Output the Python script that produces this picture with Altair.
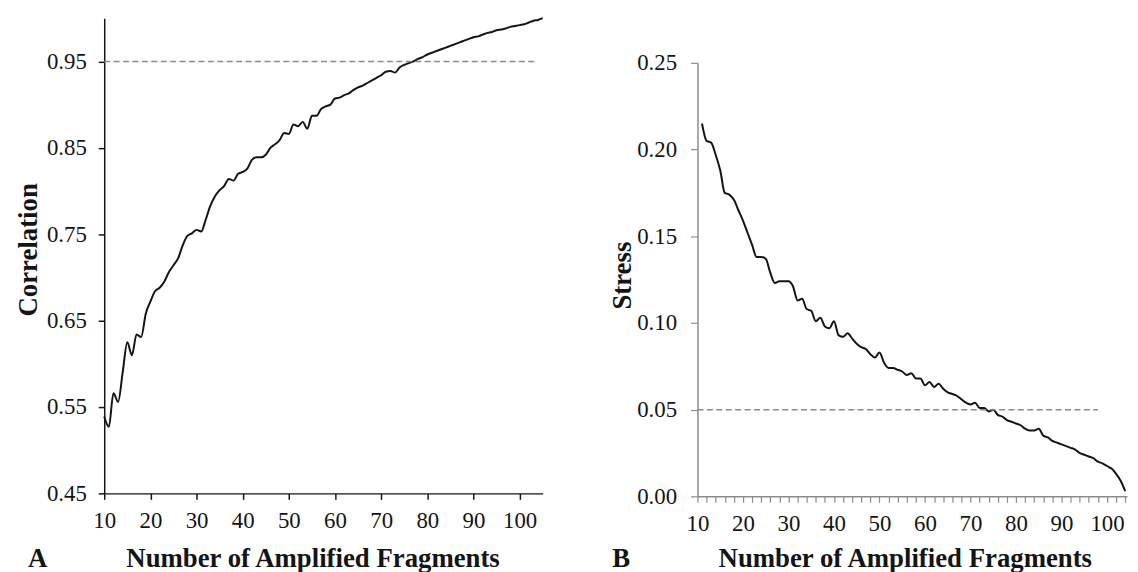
import altair as alt
import pandas as pd

# ---------------- data ----------------
corr_n = list(range(10, 106))
corr_val = [0.539, 0.527, 0.566, 0.556, 0.590, 0.625, 0.610, 0.634, 0.631, 0.658,
            0.672, 0.684, 0.688, 0.695, 0.706, 0.714, 0.722, 0.737, 0.748, 0.751,
            0.755, 0.753, 0.767, 0.783, 0.794, 0.801, 0.806, 0.814, 0.812, 0.820,
            0.822, 0.826, 0.836, 0.839, 0.839, 0.842, 0.850, 0.854, 0.859, 0.867,
            0.866, 0.877, 0.875, 0.880, 0.872, 0.887, 0.887, 0.895, 0.898, 0.900,
            0.907, 0.908, 0.911, 0.913, 0.917, 0.920, 0.922, 0.925, 0.928, 0.931,
            0.934, 0.938, 0.939, 0.937, 0.943, 0.946, 0.948, 0.950, 0.953, 0.955,
            0.958, 0.960, 0.962, 0.964, 0.966, 0.968, 0.970, 0.972, 0.974, 0.976,
            0.978, 0.979, 0.981, 0.983, 0.984, 0.986, 0.987, 0.988, 0.990, 0.991,
            0.992, 0.993, 0.995, 0.997, 0.998, 1.000]

stress_n = list(range(11, 105))
stress_val = [0.215, 0.205, 0.204, 0.197, 0.188, 0.175, 0.174, 0.171, 0.165, 0.159,
              0.152, 0.145, 0.138, 0.138, 0.137, 0.129, 0.123, 0.124, 0.124, 0.124,
              0.121, 0.113, 0.114, 0.108, 0.107, 0.101, 0.103, 0.098, 0.097, 0.101,
              0.093, 0.092, 0.094, 0.091, 0.088, 0.086, 0.085, 0.082, 0.080, 0.083,
              0.077, 0.074, 0.074, 0.073, 0.072, 0.070, 0.071, 0.068, 0.068, 0.064,
              0.066, 0.063, 0.065, 0.062, 0.060, 0.059, 0.058, 0.056, 0.054, 0.053,
              0.054, 0.051, 0.051, 0.049, 0.050, 0.047, 0.046, 0.044, 0.043, 0.042,
              0.041, 0.039, 0.038, 0.038, 0.039, 0.035, 0.034, 0.032, 0.031, 0.030,
              0.029, 0.028, 0.027, 0.025, 0.024, 0.023, 0.022, 0.020, 0.019, 0.0175,
              0.016, 0.013, 0.009, 0.003]

corr_ref = 0.95
corr_ref_span = [10, 103.4]
stress_ref = 0.05
stress_ref_span = [10, 98]

corr_x_domain = [10, 105]
corr_y_domain = [0.45, 1.0]
stress_x_domain = [10, 104.4]
stress_y_domain = [0.0, 0.25]

corr_x_ticks = [10, 20, 30, 40, 50, 60, 70, 80, 90, 100]
corr_y_ticks = [0.45, 0.55, 0.65, 0.75, 0.85, 0.95]
stress_x_ticks = list(range(10, 105, 2))
stress_y_ticks = [0.0, 0.05, 0.10, 0.15, 0.20, 0.25]

x_title = "Number of Amplified Fragments"
corr_title = "Correlation"
stress_title = "Stress"
panel_labels = ["A", "B"]

# ---------------- styling ----------------
FONT = "Liberation Serif"
INK = "#141414"
GRAY_AXIS = "#8c8c8c"
DASH = "#8a8a8a"
W1, H1 = 442, 479
W2, H2 = 433, 482          # right panel: plot area sits 45px lower (scale range below)
B_TOP = 45


def axis(**kw):
    base = dict(grid=False, labelFont=FONT, labelFontSize=23, labelColor=INK,
                titleFont=FONT, titleFontSize=27, titleFontWeight="bold",
                titleColor=INK, labelFlush=False, labelOverlap=False)
    base.update(kw)
    return alt.Axis(**base)


corr_df = pd.DataFrame({"n": corr_n, "v": corr_val})
stress_df = pd.DataFrame({"n": stress_n, "v": stress_val})
corr_ref_df = pd.DataFrame({"n": [corr_ref_span[0]], "n2": [corr_ref_span[1]], "v": [corr_ref]})
stress_ref_df = pd.DataFrame({"n": [stress_ref_span[0]], "n2": [stress_ref_span[1]], "v": [stress_ref]})

# ---------------- panel A ----------------
xs1 = alt.Scale(domain=corr_x_domain, nice=False, zero=False)
ys1 = alt.Scale(domain=corr_y_domain, nice=False, zero=False)

line1 = alt.Chart(corr_df).mark_line(color=INK, strokeWidth=2, interpolate="monotone").encode(
    x=alt.X("n:Q", scale=xs1, axis=axis(
        values=corr_x_ticks, tickCount=40, title=x_title, domainColor=INK, domainWidth=1.5,
        tickColor=INK, tickWidth=1.5, tickSize=6, labelPadding=10,
        titleX=210, titleY=74, titleBaseline="alphabetic", titleAlign="center")),
    y=alt.Y("v:Q", scale=ys1, axis=axis(
        values=corr_y_ticks, tickCount=40, format=".2f", title=corr_title, domainColor=INK,
        domainWidth=1.5, tickColor=INK, tickWidth=1.5, tickSize=6, labelPadding=12,
        titleX=-68, titleY=233, titleAngle=270, titleBaseline="alphabetic",
        titleAlign="center")),
)
rule1 = alt.Chart(corr_ref_df).mark_rule(color=DASH, strokeWidth=1.5, strokeDash=[6, 3.5]).encode(
    x=alt.X("n:Q", scale=xs1), x2="n2:Q",
    y=alt.Y("v:Q", scale=ys1),
)
labA = alt.Chart(pd.DataFrame({"t": [panel_labels[0]]})).mark_text(
    font=FONT, fontSize=27, fontWeight="bold", color=INK, align="center", baseline="alphabetic"
).encode(x=alt.value(-67), y=alt.value(553), text="t:N")

left = alt.layer(line1, rule1, labA).properties(width=W1, height=H1)

# ---------------- panel B ----------------
xs2 = alt.Scale(domain=stress_x_domain, nice=False, zero=False)
ys2 = alt.Scale(domain=stress_y_domain, nice=False, zero=False, range=[H2, B_TOP])

line2 = alt.Chart(stress_df).mark_line(color=INK, strokeWidth=2, interpolate="monotone").encode(
    x=alt.X("n:Q", scale=xs2, axis=axis(
        values=stress_x_ticks, tickCount=100,
        labelExpr="datum.value % 10 === 0 ? datum.label : ''",
        title=x_title, domainColor=GRAY_AXIS, domainWidth=1.5, tickColor=GRAY_AXIS,
        tickWidth=1.2, tickSize=6, labelPadding=10,
        titleX=209, titleY=71, titleBaseline="alphabetic", titleAlign="center")),
    y=alt.Y("v:Q", scale=ys2, axis=axis(
        values=stress_y_ticks, tickCount=40, format=".2f", title=stress_title,
        domainColor=GRAY_AXIS, domainWidth=1.5, tickColor=GRAY_AXIS, tickWidth=1.2,
        tickSize=7, labelPadding=14,
        titleX=-68, titleY=B_TOP + 214, titleAngle=270, titleBaseline="alphabetic",
        titleAlign="center")),
)
rule2 = alt.Chart(stress_ref_df).mark_rule(color=DASH, strokeWidth=1.5, strokeDash=[6, 3.5]).encode(
    x=alt.X("n:Q", scale=xs2), x2="n2:Q",
    y=alt.Y("v:Q", scale=ys2),
)
labB = alt.Chart(pd.DataFrame({"t": [panel_labels[1]]})).mark_text(
    font=FONT, fontSize=27, fontWeight="bold", color=INK, align="center", baseline="alphabetic"
).encode(x=alt.value(-77), y=alt.value(H2 + 71), text="t:N")

right = alt.layer(line2, rule2, labB).properties(width=W2, height=H2)

chart = alt.hconcat(left, right, spacing=60).properties(
    padding={"left": 6, "top": 3, "right": 0, "bottom": 0}
).configure_view(stroke="transparent")

chart.save("out.html", embed_options={"renderer": "svg", "actions": False})
